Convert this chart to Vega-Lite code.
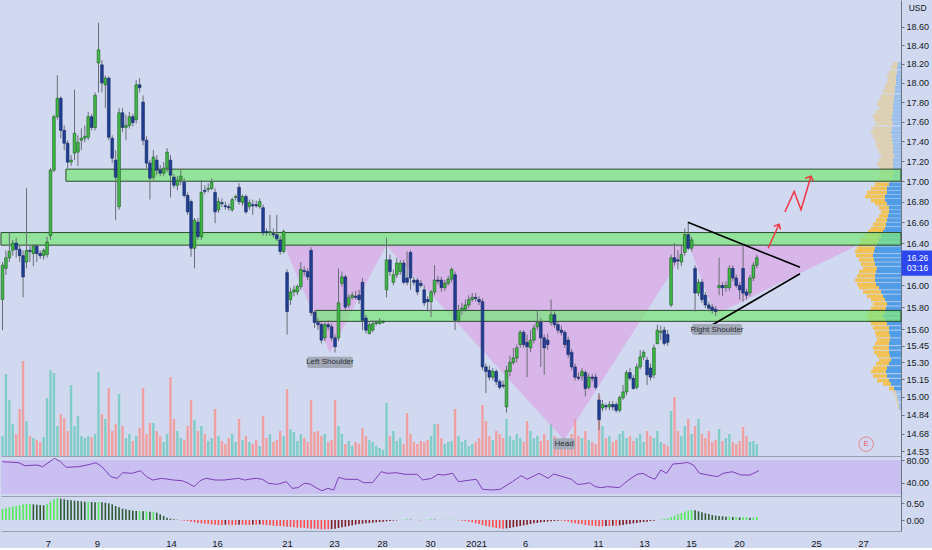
{
"$schema": "https://vega.github.io/schema/vega-lite/v6.json",
"background": "#d1d9f0",
"padding": 0,
"config": {"view": {"stroke": null}, "axis": {"labelFont": "Liberation Sans", "labelFontSize": 9, "labelColor": "#131722", "grid": false}, "text": {"font": "Liberation Sans"}, "scale": {"continuousPadding": 0}},
"datasets": {
"candles": [
{"i":0,"o":15.87,"h":16.22,"l":15.59,"c":16.19,"v":200,"m":0.33},
{"i":1,"o":16.16,"h":16.33,"l":16.10,"c":16.26,"v":820,"m":0.36},
{"i":2,"o":16.26,"h":16.50,"l":16.22,"c":16.32,"v":560,"m":0.38},
{"i":3,"o":16.33,"h":16.43,"l":16.28,"c":16.40,"v":320,"m":0.40},
{"i":4,"o":16.40,"h":16.45,"l":16.26,"c":16.34,"v":220,"m":0.42},
{"i":5,"o":16.34,"h":16.38,"l":16.22,"c":16.28,"v":470,"m":0.45},
{"i":6,"o":16.28,"h":16.33,"l":15.89,"c":16.08,"v":950,"m":0.47},
{"i":7,"o":16.22,"h":16.93,"l":16.16,"c":16.33,"v":350,"m":0.48},
{"i":8,"o":16.33,"h":16.38,"l":16.22,"c":16.32,"v":200,"m":0.48},
{"i":9,"o":16.30,"h":16.39,"l":16.18,"c":16.37,"v":180,"m":0.47},
{"i":10,"o":16.37,"h":16.39,"l":16.22,"c":16.30,"v":160,"m":0.46},
{"i":11,"o":16.30,"h":16.33,"l":16.25,"c":16.28,"v":140,"m":0.45},
{"i":12,"o":16.28,"h":16.35,"l":16.24,"c":16.33,"v":190,"m":0.44},
{"i":13,"o":16.29,"h":16.46,"l":16.26,"c":16.41,"v":580,"m":0.48},
{"i":14,"o":16.47,"h":17.13,"l":16.43,"c":17.11,"v":860,"m":0.55},
{"i":15,"o":17.11,"h":17.67,"l":17.09,"c":17.65,"v":830,"m":0.62},
{"i":16,"o":17.65,"h":18.08,"l":17.62,"c":17.84,"v":300,"m":0.66},
{"i":17,"o":17.84,"h":17.86,"l":17.43,"c":17.51,"v":420,"m":0.64},
{"i":18,"o":17.51,"h":17.56,"l":17.31,"c":17.38,"v":380,"m":0.62},
{"i":19,"o":17.38,"h":17.41,"l":17.13,"c":17.19,"v":250,"m":0.60},
{"i":20,"o":17.19,"h":17.26,"l":17.15,"c":17.21,"v":710,"m":0.59},
{"i":21,"o":17.28,"h":17.93,"l":17.21,"c":17.48,"v":300,"m":0.58},
{"i":22,"o":17.29,"h":17.46,"l":17.15,"c":17.39,"v":400,"m":0.57},
{"i":23,"o":17.41,"h":17.53,"l":17.31,"c":17.43,"v":200,"m":0.56},
{"i":24,"o":17.43,"h":17.56,"l":17.39,"c":17.45,"v":180,"m":0.55},
{"i":25,"o":17.44,"h":17.70,"l":17.41,"c":17.65,"v":200,"m":0.55},
{"i":26,"o":17.65,"h":17.68,"l":17.51,"c":17.54,"v":190,"m":0.54},
{"i":27,"o":17.54,"h":17.90,"l":17.51,"c":17.87,"v":220,"m":0.53},
{"i":28,"o":18.21,"h":18.64,"l":17.90,"c":18.35,"v":840,"m":0.54},
{"i":29,"o":18.19,"h":18.24,"l":17.90,"c":18.00,"v":420,"m":0.53},
{"i":30,"o":17.98,"h":18.08,"l":17.74,"c":18.05,"v":370,"m":0.52},
{"i":31,"o":18.05,"h":18.07,"l":17.41,"c":17.44,"v":680,"m":0.50},
{"i":32,"o":17.43,"h":17.46,"l":17.18,"c":17.23,"v":250,"m":0.47},
{"i":33,"o":17.21,"h":17.31,"l":16.62,"c":17.04,"v":320,"m":0.42},
{"i":34,"o":16.75,"h":17.74,"l":16.72,"c":17.69,"v":620,"m":0.38},
{"i":35,"o":17.69,"h":17.74,"l":17.49,"c":17.54,"v":300,"m":0.34},
{"i":36,"o":17.54,"h":17.67,"l":17.41,"c":17.56,"v":180,"m":0.32},
{"i":37,"o":17.56,"h":17.70,"l":17.53,"c":17.65,"v":220,"m":0.30},
{"i":38,"o":17.65,"h":17.68,"l":17.55,"c":17.59,"v":150,"m":0.28},
{"i":39,"o":17.62,"h":18.03,"l":17.58,"c":17.98,"v":200,"m":0.27},
{"i":40,"o":17.98,"h":18.05,"l":17.90,"c":17.95,"v":280,"m":0.27},
{"i":41,"o":17.80,"h":17.87,"l":17.36,"c":17.41,"v":680,"m":0.26},
{"i":42,"o":17.41,"h":17.45,"l":17.13,"c":17.18,"v":220,"m":0.26},
{"i":43,"o":17.18,"h":17.21,"l":16.82,"c":17.03,"v":330,"m":0.25},
{"i":44,"o":17.04,"h":17.31,"l":17.01,"c":17.24,"v":330,"m":0.25},
{"i":45,"o":17.21,"h":17.26,"l":17.06,"c":17.11,"v":250,"m":0.22},
{"i":46,"o":17.11,"h":17.16,"l":17.05,"c":17.08,"v":200,"m":0.17},
{"i":47,"o":17.08,"h":17.19,"l":17.05,"c":17.13,"v":140,"m":0.12},
{"i":48,"o":17.13,"h":17.33,"l":17.09,"c":17.29,"v":220,"m":0.07},
{"i":49,"o":17.21,"h":17.26,"l":16.84,"c":17.06,"v":790,"m":0.04},
{"i":50,"o":17.04,"h":17.07,"l":16.93,"c":16.96,"v":370,"m":0.02},
{"i":51,"o":16.96,"h":17.05,"l":16.91,"c":17.01,"v":250,"m":0.01},
{"i":52,"o":17.01,"h":17.11,"l":16.96,"c":17.05,"v":180,"m":-0.01},
{"i":53,"o":16.99,"h":17.03,"l":16.84,"c":16.86,"v":160,"m":-0.02},
{"i":54,"o":16.86,"h":16.89,"l":16.67,"c":16.70,"v":300,"m":-0.03},
{"i":55,"o":16.80,"h":16.82,"l":16.27,"c":16.35,"v":560,"m":-0.05},
{"i":56,"o":16.35,"h":16.64,"l":16.16,"c":16.62,"v":360,"m":-0.07},
{"i":57,"o":16.60,"h":16.64,"l":16.43,"c":16.46,"v":250,"m":-0.09},
{"i":58,"o":16.46,"h":17.01,"l":16.43,"c":16.89,"v":300,"m":-0.10},
{"i":59,"o":16.91,"h":16.96,"l":16.87,"c":16.90,"v":220,"m":-0.11},
{"i":60,"o":16.92,"h":16.98,"l":16.89,"c":16.93,"v":150,"m":-0.12},
{"i":61,"o":16.93,"h":17.03,"l":16.91,"c":16.99,"v":180,"m":-0.13},
{"i":62,"o":16.89,"h":16.93,"l":16.59,"c":16.70,"v":470,"m":-0.14},
{"i":63,"o":16.72,"h":16.84,"l":16.69,"c":16.80,"v":200,"m":-0.15},
{"i":64,"o":16.79,"h":16.83,"l":16.75,"c":16.78,"v":150,"m":-0.15},
{"i":65,"o":16.76,"h":16.80,"l":16.72,"c":16.75,"v":120,"m":-0.14},
{"i":66,"o":16.75,"h":16.78,"l":16.71,"c":16.74,"v":180,"m":-0.14},
{"i":67,"o":16.72,"h":16.84,"l":16.70,"c":16.82,"v":220,"m":-0.15},
{"i":68,"o":16.84,"h":16.87,"l":16.81,"c":16.85,"v":140,"m":-0.15},
{"i":69,"o":16.94,"h":16.98,"l":16.77,"c":16.80,"v":370,"m":-0.14},
{"i":70,"o":16.79,"h":16.87,"l":16.76,"c":16.85,"v":160,"m":-0.14},
{"i":71,"o":16.85,"h":16.87,"l":16.68,"c":16.70,"v":200,"m":-0.15},
{"i":72,"o":16.75,"h":16.82,"l":16.72,"c":16.79,"v":140,"m":-0.15},
{"i":73,"o":16.77,"h":16.82,"l":16.67,"c":16.76,"v":120,"m":-0.14},
{"i":74,"o":16.77,"h":16.81,"l":16.74,"c":16.76,"v":160,"m":-0.14},
{"i":75,"o":16.75,"h":16.83,"l":16.73,"c":16.80,"v":100,"m":-0.13},
{"i":76,"o":16.74,"h":16.77,"l":16.47,"c":16.50,"v":400,"m":-0.14},
{"i":77,"o":16.51,"h":16.54,"l":16.47,"c":16.50,"v":180,"m":-0.15},
{"i":78,"o":16.50,"h":16.67,"l":16.47,"c":16.51,"v":220,"m":-0.16},
{"i":79,"o":16.49,"h":16.54,"l":16.45,"c":16.48,"v":140,"m":-0.17},
{"i":80,"o":16.48,"h":16.67,"l":16.42,"c":16.44,"v":160,"m":-0.18},
{"i":81,"o":16.43,"h":16.47,"l":16.29,"c":16.32,"v":250,"m":-0.18},
{"i":82,"o":16.32,"h":16.53,"l":16.30,"c":16.51,"v":200,"m":-0.19},
{"i":83,"o":16.12,"h":16.15,"l":15.55,"c":15.76,"v":670,"m":-0.20},
{"i":84,"o":15.87,"h":15.98,"l":15.82,"c":15.94,"v":270,"m":-0.21},
{"i":85,"o":15.94,"h":16.00,"l":15.90,"c":15.96,"v":240,"m":-0.22},
{"i":86,"o":15.94,"h":16.01,"l":15.91,"c":15.99,"v":150,"m":-0.23},
{"i":87,"o":15.99,"h":16.22,"l":15.96,"c":16.15,"v":220,"m":-0.23},
{"i":88,"o":16.14,"h":16.18,"l":16.09,"c":16.13,"v":180,"m":-0.24},
{"i":89,"o":16.13,"h":16.16,"l":16.05,"c":16.08,"v":140,"m":-0.25},
{"i":90,"o":16.33,"h":16.36,"l":15.72,"c":15.75,"v":560,"m":-0.26},
{"i":91,"o":15.75,"h":15.77,"l":15.61,"c":15.66,"v":240,"m":-0.26},
{"i":92,"o":15.66,"h":15.70,"l":15.59,"c":15.64,"v":250,"m":-0.27},
{"i":93,"o":15.64,"h":15.66,"l":15.47,"c":15.50,"v":200,"m":-0.28},
{"i":94,"o":15.52,"h":15.66,"l":15.49,"c":15.64,"v":220,"m":-0.28},
{"i":95,"o":15.64,"h":15.68,"l":15.59,"c":15.62,"v":140,"m":-0.28},
{"i":96,"o":15.62,"h":15.65,"l":15.49,"c":15.52,"v":160,"m":-0.27},
{"i":97,"o":15.52,"h":15.55,"l":15.39,"c":15.44,"v":560,"m":-0.26},
{"i":98,"o":15.52,"h":16.16,"l":15.49,"c":15.84,"v":300,"m":-0.24},
{"i":99,"o":16.02,"h":16.13,"l":15.99,"c":16.08,"v":220,"m":-0.22},
{"i":100,"o":16.08,"h":16.10,"l":15.77,"c":15.80,"v":120,"m":-0.20},
{"i":101,"o":15.82,"h":15.92,"l":15.79,"c":15.89,"v":150,"m":-0.18},
{"i":102,"o":15.89,"h":15.94,"l":15.87,"c":15.91,"v":100,"m":-0.16},
{"i":103,"o":15.90,"h":15.95,"l":15.87,"c":15.89,"v":140,"m":-0.14},
{"i":104,"o":15.91,"h":15.96,"l":15.83,"c":15.87,"v":120,"m":-0.12},
{"i":105,"o":16.03,"h":16.07,"l":15.59,"c":15.68,"v":280,"m":-0.11},
{"i":106,"o":15.70,"h":15.73,"l":15.56,"c":15.59,"v":200,"m":-0.10},
{"i":107,"o":15.56,"h":15.67,"l":15.55,"c":15.64,"v":160,"m":-0.09},
{"i":108,"o":15.59,"h":15.68,"l":15.57,"c":15.65,"v":140,"m":-0.08},
{"i":109,"o":15.65,"h":15.68,"l":15.63,"c":15.66,"v":100,"m":-0.07},
{"i":110,"o":15.65,"h":15.70,"l":15.64,"c":15.67,"v":80,"m":-0.06},
{"i":111,"o":15.66,"h":15.68,"l":15.65,"c":15.67,"v":60,"m":-0.05},
{"i":112,"o":15.96,"h":16.45,"l":15.89,"c":16.24,"v":530,"m":-0.04},
{"i":113,"o":16.24,"h":16.29,"l":16.09,"c":16.13,"v":200,"m":-0.03},
{"i":114,"o":16.03,"h":16.15,"l":16.00,"c":16.10,"v":250,"m":-0.02},
{"i":115,"o":16.10,"h":16.26,"l":16.07,"c":16.21,"v":150,"m":-0.01},
{"i":116,"o":16.13,"h":16.24,"l":16.10,"c":16.21,"v":180,"m":0.01},
{"i":117,"o":16.21,"h":16.24,"l":16.01,"c":16.03,"v":120,"m":0.01},
{"i":118,"o":16.07,"h":16.32,"l":16.00,"c":16.03,"v":430,"m":0.02},
{"i":119,"o":16.31,"h":16.33,"l":15.96,"c":16.07,"v":220,"m":0.01},
{"i":120,"o":16.05,"h":16.08,"l":16.00,"c":16.03,"v":140,"m":0.01},
{"i":121,"o":16.05,"h":16.07,"l":15.91,"c":15.94,"v":120,"m":0.00},
{"i":122,"o":16.02,"h":16.05,"l":15.98,"c":16.00,"v":150,"m":-0.01},
{"i":123,"o":15.96,"h":16.00,"l":15.81,"c":15.84,"v":140,"m":0.01},
{"i":124,"o":15.87,"h":15.90,"l":15.76,"c":15.85,"v":160,"m":0.01},
{"i":125,"o":15.85,"h":15.96,"l":15.71,"c":15.94,"v":200,"m":0.02},
{"i":126,"o":15.94,"h":16.19,"l":15.91,"c":16.05,"v":320,"m":0.01},
{"i":127,"o":16.05,"h":16.09,"l":16.01,"c":16.04,"v":320,"m":0.01},
{"i":128,"o":16.05,"h":16.08,"l":15.94,"c":15.98,"v":180,"m":0.01},
{"i":129,"o":15.98,"h":16.05,"l":15.95,"c":16.02,"v":120,"m":0.00},
{"i":130,"o":16.02,"h":16.09,"l":16.00,"c":16.06,"v":140,"m":0.01},
{"i":131,"o":16.06,"h":16.17,"l":16.03,"c":16.15,"v":150,"m":0.01},
{"i":132,"o":16.10,"h":16.13,"l":15.59,"c":15.68,"v":470,"m":0.00},
{"i":133,"o":15.68,"h":15.82,"l":15.66,"c":15.77,"v":200,"m":-0.01},
{"i":134,"o":15.77,"h":15.84,"l":15.73,"c":15.79,"v":140,"m":-0.02},
{"i":135,"o":15.78,"h":15.87,"l":15.76,"c":15.82,"v":160,"m":-0.03},
{"i":136,"o":15.82,"h":15.91,"l":15.79,"c":15.87,"v":100,"m":-0.05},
{"i":137,"o":15.87,"h":15.93,"l":15.85,"c":15.89,"v":120,"m":-0.07},
{"i":138,"o":15.89,"h":15.93,"l":15.85,"c":15.88,"v":140,"m":-0.10},
{"i":139,"o":15.87,"h":15.90,"l":15.82,"c":15.85,"v":180,"m":-0.12},
{"i":140,"o":15.85,"h":15.88,"l":15.23,"c":15.26,"v":510,"m":-0.15},
{"i":141,"o":15.26,"h":15.29,"l":15.03,"c":15.22,"v":350,"m":-0.18},
{"i":142,"o":15.23,"h":15.27,"l":15.14,"c":15.17,"v":200,"m":-0.20},
{"i":143,"o":15.17,"h":15.25,"l":15.14,"c":15.22,"v":160,"m":-0.22},
{"i":144,"o":15.22,"h":15.24,"l":15.10,"c":15.13,"v":250,"m":-0.24},
{"i":145,"o":15.13,"h":15.15,"l":15.06,"c":15.08,"v":220,"m":-0.25},
{"i":146,"o":15.10,"h":15.14,"l":15.07,"c":15.09,"v":180,"m":-0.26},
{"i":147,"o":14.91,"h":15.27,"l":14.86,"c":15.23,"v":370,"m":-0.25},
{"i":148,"o":15.22,"h":15.36,"l":15.18,"c":15.30,"v":200,"m":-0.24},
{"i":149,"o":15.30,"h":15.43,"l":15.28,"c":15.34,"v":160,"m":-0.22},
{"i":150,"o":15.34,"h":15.46,"l":15.30,"c":15.43,"v":220,"m":-0.20},
{"i":151,"o":15.46,"h":15.59,"l":15.43,"c":15.57,"v":180,"m":-0.18},
{"i":152,"o":15.57,"h":15.59,"l":15.43,"c":15.46,"v":140,"m":-0.16},
{"i":153,"o":15.48,"h":15.55,"l":15.17,"c":15.44,"v":350,"m":-0.14},
{"i":154,"o":15.43,"h":15.59,"l":15.39,"c":15.50,"v":250,"m":-0.12},
{"i":155,"o":15.50,"h":15.64,"l":15.47,"c":15.61,"v":180,"m":-0.10},
{"i":156,"o":15.62,"h":15.77,"l":15.59,"c":15.66,"v":200,"m":-0.09},
{"i":157,"o":15.66,"h":15.70,"l":15.26,"c":15.52,"v":150,"m":-0.07},
{"i":158,"o":15.52,"h":15.55,"l":15.19,"c":15.43,"v":220,"m":-0.06},
{"i":159,"o":15.50,"h":15.56,"l":15.41,"c":15.46,"v":160,"m":-0.05},
{"i":160,"o":15.66,"h":15.87,"l":15.63,"c":15.73,"v":320,"m":-0.04},
{"i":161,"o":15.73,"h":15.76,"l":15.61,"c":15.64,"v":200,"m":-0.03},
{"i":162,"o":15.64,"h":15.67,"l":15.56,"c":15.59,"v":160,"m":-0.02},
{"i":163,"o":15.59,"h":15.63,"l":15.54,"c":15.57,"v":120,"m":-0.02},
{"i":164,"o":15.57,"h":15.59,"l":15.43,"c":15.46,"v":180,"m":-0.03},
{"i":165,"o":15.50,"h":15.53,"l":15.34,"c":15.37,"v":140,"m":-0.05},
{"i":166,"o":15.39,"h":15.42,"l":15.23,"c":15.26,"v":220,"m":-0.08},
{"i":167,"o":15.26,"h":15.29,"l":15.14,"c":15.17,"v":370,"m":-0.10},
{"i":168,"o":15.17,"h":15.21,"l":15.14,"c":15.16,"v":200,"m":-0.12},
{"i":169,"o":15.18,"h":15.25,"l":15.14,"c":15.22,"v":180,"m":-0.13},
{"i":170,"o":15.21,"h":15.23,"l":15.00,"c":15.07,"v":250,"m":-0.15},
{"i":171,"o":15.08,"h":15.20,"l":15.06,"c":15.17,"v":160,"m":-0.16},
{"i":172,"o":15.17,"h":15.20,"l":15.13,"c":15.16,"v":140,"m":-0.17},
{"i":173,"o":15.17,"h":15.20,"l":15.06,"c":15.08,"v":120,"m":-0.18},
{"i":174,"o":14.97,"h":15.03,"l":14.71,"c":14.80,"v":610,"m":-0.19},
{"i":175,"o":14.90,"h":14.97,"l":14.87,"c":14.93,"v":300,"m":-0.19},
{"i":176,"o":14.92,"h":14.94,"l":14.88,"c":14.91,"v":180,"m":-0.18},
{"i":177,"o":14.91,"h":14.96,"l":14.88,"c":14.93,"v":200,"m":-0.18},
{"i":178,"o":14.93,"h":14.96,"l":14.88,"c":14.91,"v":140,"m":-0.17},
{"i":179,"o":14.93,"h":14.95,"l":14.86,"c":14.88,"v":160,"m":-0.17},
{"i":180,"o":14.88,"h":15.01,"l":14.86,"c":14.99,"v":220,"m":-0.16},
{"i":181,"o":14.99,"h":15.10,"l":14.97,"c":15.04,"v":250,"m":-0.15},
{"i":182,"o":15.04,"h":15.23,"l":15.01,"c":15.21,"v":180,"m":-0.13},
{"i":183,"o":15.21,"h":15.25,"l":15.14,"c":15.16,"v":200,"m":-0.12},
{"i":184,"o":15.16,"h":15.19,"l":15.06,"c":15.07,"v":150,"m":-0.10},
{"i":185,"o":15.08,"h":15.29,"l":15.06,"c":15.26,"v":180,"m":-0.09},
{"i":186,"o":15.26,"h":15.41,"l":15.24,"c":15.35,"v":220,"m":-0.07},
{"i":187,"o":15.35,"h":15.41,"l":15.32,"c":15.39,"v":140,"m":-0.06},
{"i":188,"o":15.32,"h":15.35,"l":15.10,"c":15.19,"v":250,"m":-0.05},
{"i":189,"o":15.25,"h":15.29,"l":15.14,"c":15.17,"v":200,"m":-0.03},
{"i":190,"o":15.19,"h":15.46,"l":15.16,"c":15.43,"v":180,"m":-0.02},
{"i":191,"o":15.47,"h":15.64,"l":15.46,"c":15.59,"v":250,"m":0.00},
{"i":192,"o":15.57,"h":15.63,"l":15.50,"c":15.58,"v":140,"m":0.01},
{"i":193,"o":15.59,"h":15.62,"l":15.45,"c":15.47,"v":120,"m":0.03},
{"i":194,"o":15.55,"h":15.59,"l":15.45,"c":15.48,"v":100,"m":0.05},
{"i":195,"o":15.82,"h":16.29,"l":15.80,"c":16.26,"v":450,"m":0.09},
{"i":196,"o":16.26,"h":16.40,"l":16.19,"c":16.22,"v":590,"m":0.13},
{"i":197,"o":16.24,"h":16.33,"l":16.15,"c":16.23,"v":250,"m":0.17},
{"i":198,"o":16.22,"h":16.38,"l":16.18,"c":16.29,"v":200,"m":0.21},
{"i":199,"o":16.31,"h":16.54,"l":16.28,"c":16.48,"v":300,"m":0.25},
{"i":200,"o":16.48,"h":16.60,"l":16.33,"c":16.35,"v":370,"m":0.28},
{"i":201,"o":16.35,"h":16.46,"l":16.32,"c":16.43,"v":220,"m":0.30},
{"i":202,"o":16.16,"h":16.19,"l":15.76,"c":15.93,"v":300,"m":0.29},
{"i":203,"o":15.93,"h":16.06,"l":15.90,"c":16.03,"v":370,"m":0.26},
{"i":204,"o":16.03,"h":16.06,"l":15.84,"c":15.87,"v":220,"m":0.23},
{"i":205,"o":15.91,"h":15.94,"l":15.79,"c":15.82,"v":180,"m":0.20},
{"i":206,"o":15.82,"h":15.85,"l":15.76,"c":15.79,"v":250,"m":0.18},
{"i":207,"o":15.80,"h":15.83,"l":15.74,"c":15.77,"v":140,"m":0.15},
{"i":208,"o":15.78,"h":15.81,"l":15.72,"c":15.76,"v":160,"m":0.13},
{"i":209,"o":15.98,"h":16.26,"l":15.91,"c":16.00,"v":270,"m":0.12},
{"i":210,"o":16.00,"h":16.03,"l":15.90,"c":15.98,"v":150,"m":0.11},
{"i":211,"o":15.98,"h":16.04,"l":15.94,"c":16.00,"v":180,"m":0.10},
{"i":212,"o":15.98,"h":16.19,"l":15.95,"c":16.16,"v":220,"m":0.10},
{"i":213,"o":16.16,"h":16.19,"l":16.04,"c":16.07,"v":140,"m":0.09},
{"i":214,"o":16.07,"h":16.10,"l":15.98,"c":16.00,"v":120,"m":0.09},
{"i":215,"o":16.00,"h":16.03,"l":15.87,"c":15.96,"v":150,"m":0.08},
{"i":216,"o":16.16,"h":16.38,"l":15.85,"c":15.93,"v":290,"m":0.08},
{"i":217,"o":15.94,"h":15.97,"l":15.87,"c":15.91,"v":200,"m":0.08},
{"i":218,"o":15.93,"h":16.10,"l":15.90,"c":16.07,"v":140,"m":0.07},
{"i":219,"o":16.07,"h":16.22,"l":16.04,"c":16.19,"v":150,"m":0.08},
{"i":220,"o":16.19,"h":16.29,"l":16.16,"c":16.26,"v":120,"m":0.08}
],
"profile": [
{"p":18.20,"buy":30,"sell":50},{"p":18.16,"buy":40,"sell":60},{"p":18.11,"buy":40,"sell":80},{"p":18.07,"buy":50,"sell":90},
{"p":18.03,"buy":50,"sell":80},{"p":17.99,"buy":50,"sell":100},{"p":17.95,"buy":60,"sell":100},{"p":17.91,"buy":60,"sell":120},
{"p":17.86,"buy":70,"sell":130},{"p":17.82,"buy":70,"sell":150},{"p":17.78,"buy":80,"sell":160},{"p":17.74,"buy":80,"sell":140},
{"p":17.70,"buy":80,"sell":170},{"p":17.66,"buy":90,"sell":190},{"p":17.62,"buy":90,"sell":180},{"p":17.58,"buy":80,"sell":170},
{"p":17.53,"buy":90,"sell":190},{"p":17.49,"buy":100,"sell":200},{"p":17.45,"buy":90,"sell":190},{"p":17.41,"buy":90,"sell":170},
{"p":17.37,"buy":80,"sell":170},{"p":17.33,"buy":80,"sell":160},{"p":17.29,"buy":80,"sell":140},{"p":17.25,"buy":70,"sell":130},
{"p":17.21,"buy":80,"sell":140},{"p":17.17,"buy":80,"sell":160},{"p":17.13,"buy":80,"sell":140},{"p":17.09,"buy":70,"sell":130},
{"p":17.05,"buy":80,"sell":120},{"p":17.01,"buy":100,"sell":120},{"p":16.97,"buy":120,"sell":140},{"p":16.93,"buy":140,"sell":160},
{"p":16.89,"buy":140,"sell":200},{"p":16.85,"buy":160,"sell":200},{"p":16.81,"buy":160,"sell":140},{"p":16.78,"buy":140,"sell":120},
{"p":16.74,"buy":120,"sell":100},{"p":16.70,"buy":120,"sell":80},{"p":16.66,"buy":130,"sell":90},{"p":16.62,"buy":140,"sell":110},
{"p":16.58,"buy":150,"sell":130},{"p":16.54,"buy":160,"sell":140},{"p":16.51,"buy":180,"sell":150},{"p":16.47,"buy":200,"sell":160},
{"p":16.43,"buy":220,"sell":180},{"p":16.39,"buy":240,"sell":180},{"p":16.35,"buy":260,"sell":180},{"p":16.32,"buy":270,"sell":190},
{"p":16.28,"buy":280,"sell":170},{"p":16.24,"buy":270,"sell":150},{"p":16.20,"buy":260,"sell":140},{"p":16.16,"buy":240,"sell":140},
{"p":16.13,"buy":250,"sell":170},{"p":16.09,"buy":260,"sell":180},{"p":16.05,"buy":260,"sell":200},{"p":16.01,"buy":250,"sell":190},
{"p":15.98,"buy":220,"sell":200},{"p":15.94,"buy":200,"sell":180},{"p":15.90,"buy":180,"sell":160},{"p":15.87,"buy":160,"sell":140},
{"p":15.83,"buy":140,"sell":140},{"p":15.79,"buy":150,"sell":150},{"p":15.76,"buy":160,"sell":160},{"p":15.72,"buy":180,"sell":160},
{"p":15.68,"buy":160,"sell":170},{"p":15.65,"buy":140,"sell":160},{"p":15.61,"buy":120,"sell":160},{"p":15.57,"buy":120,"sell":140},
{"p":15.54,"buy":110,"sell":140},{"p":15.50,"buy":110,"sell":130},{"p":15.47,"buy":120,"sell":140},{"p":15.43,"buy":120,"sell":160},
{"p":15.39,"buy":120,"sell":150},{"p":15.36,"buy":110,"sell":130},{"p":15.32,"buy":100,"sell":120},{"p":15.29,"buy":120,"sell":130},
{"p":15.25,"buy":140,"sell":140},{"p":15.22,"buy":150,"sell":150},{"p":15.18,"buy":140,"sell":140},{"p":15.14,"buy":120,"sell":120},
{"p":15.11,"buy":100,"sell":80},{"p":15.07,"buy":70,"sell":50},{"p":15.04,"buy":50,"sell":30},{"p":15.00,"buy":40,"sell":20},
{"p":14.97,"buy":30,"sell":20},{"p":14.93,"buy":20,"sell":20},{"p":14.90,"buy":20,"sell":10}
],
"rsi": [
{"i":0,"r":77.0},{"i":4.8,"r":75.2},{"i":6.5,"r":70.0},{"i":10,"r":71.2},{"i":11.7,"r":68.2},{"i":15.2,"r":83.0},{"i":16.9,"r":77.0},{"i":18.6,"r":67.1},{"i":22.1,"r":68.2},{"i":24.7,"r":71.2},{"i":27.3,"r":75.2},{"i":29,"r":68.2},{"i":31.6,"r":50.6},{"i":33.4,"r":47.7},{"i":35.1,"r":57.6},{"i":37.7,"r":56.5},{"i":40.3,"r":61.1},{"i":42,"r":50.6},{"i":43.8,"r":44.7},{"i":46.4,"r":47.7},{"i":49.8,"r":44.7},{"i":52.4,"r":43.5},{"i":54.2,"r":38.9},{"i":55.9,"r":33.0},{"i":57.6,"r":43.5},{"i":59.4,"r":47.7},{"i":62,"r":44.7},{"i":64.6,"r":44.7},{"i":67.2,"r":46.5},{"i":68.9,"r":47.7},{"i":70.6,"r":44.7},{"i":72.4,"r":46.5},{"i":74.1,"r":47.7},{"i":75.8,"r":45.9},{"i":77.6,"r":38.9},{"i":80.2,"r":37.1},{"i":82.8,"r":41.8},{"i":84.5,"r":30.0},{"i":86.2,"r":31.2},{"i":88,"r":38.9},{"i":89.7,"r":37.7},{"i":91.4,"r":31.2},{"i":93.2,"r":25.9},{"i":94.9,"r":30.0},{"i":96.6,"r":27.1},{"i":98,"r":49.4},{"i":100.1,"r":45.9},{"i":103.6,"r":45.9},{"i":105.3,"r":40.0},{"i":107.9,"r":40.0},{"i":110.5,"r":59.4},{"i":112.2,"r":56.5},{"i":114.8,"r":57.6},{"i":117.4,"r":54.8},{"i":120.9,"r":54.8},{"i":122.6,"r":44.7},{"i":125.2,"r":47.7},{"i":127,"r":54.8},{"i":128.7,"r":53.5},{"i":131.3,"r":56.5},{"i":133,"r":41.8},{"i":136.5,"r":44.7},{"i":138.2,"r":45.9},{"i":140,"r":28.3},{"i":142.6,"r":27.1},{"i":145.2,"r":28.3},{"i":148.7,"r":41.8},{"i":151.3,"r":52.3},{"i":153,"r":45.9},{"i":156.5,"r":56.5},{"i":159.1,"r":47.7},{"i":160.8,"r":55.3},{"i":163.4,"r":50.6},{"i":166,"r":45.9},{"i":167.7,"r":37.1},{"i":169.4,"r":37.7},{"i":171.2,"r":40.0},{"i":172.9,"r":33.0},{"i":174.7,"r":31.2},{"i":176.4,"r":33.0},{"i":179.9,"r":31.2},{"i":181.6,"r":40.0},{"i":183.3,"r":47.7},{"i":185.1,"r":54.8},{"i":186.8,"r":56.5},{"i":188.5,"r":50.6},{"i":190.3,"r":45.9},{"i":192,"r":62.4},{"i":193.7,"r":56.5},{"i":195.5,"r":72.9},{"i":198.1,"r":74.1},{"i":199.8,"r":75.9},{"i":201.5,"r":71.2},{"i":203.3,"r":56.5},{"i":205.9,"r":53.5},{"i":208.5,"r":50.6},{"i":210.2,"r":56.5},{"i":212.8,"r":59.4},{"i":215.4,"r":53.5},{"i":218,"r":53.5},{"i":220.6,"r":61.1}
]
},
"vconcat": [
{
"width": 900, "height": 456,
"layer": [
{
"data": {"name": "candles"},
"mark": {"type": "bar", "orient": "vertical", "size": 2.4},
"encoding": {
"x": {"field": "i", "type": "quantitative", "scale": {"domain": [-0.4375, 262.06], "nice": false, "zero": false, "padding": 0}, "axis": null},
"y": {"field": "v", "type": "quantitative", "scale": {"domain": [0, 4560], "nice": false, "padding": 0}, "axis": null},
"color": {"condition": {"test": "datum.c >= datum.o", "value": "#7fcdc6"}, "value": "#f0a0a0"}
}
},
{
"data": {"name": "profile"},
"transform": [{"fold": ["buy", "sell"], "as": ["s", "vol"]}],
"mark": {"type": "bar", "orient": "horizontal", "size": 3.6},
"encoding": {
"y": {"field": "p", "type": "quantitative", "scale": {"type": "log", "domain": [14.49, 18.889], "nice": false, "zero": false, "padding": 0}, "axis": null},
"x": {"field": "vol", "type": "quantitative", "stack": "zero", "scale": {"domain": [0, 9000], "reverse": true, "nice": false, "padding": 0}, "axis": null},
"color": {"field": "s", "type": "nominal", "scale": {"domain": ["buy", "sell"], "range": ["#4a9ae6", "#f2c14e"]}, "legend": null},
"order": {"field": "s", "sort": "ascending"},
"opacity": {"condition": {"test": "datum.p >= 15.05 && datum.p <= 16.97", "value": 0.95}, "value": 0.4}
}
},
{
"layer": [
{
"data": {"values": [{"x": 82.1, "lo": 16.38}, {"x": 95.5, "lo": 15.385}, {"x": 111.9, "lo": 16.38}, {"x": 163.8, "lo": 14.625}, {"x": 200.2, "lo": 16.38}, {"x": 207.8, "lo": 15.73}, {"x": 249.5, "lo": 16.38}]},
"mark": {"type": "area", "color": "#e08ce0", "opacity": 0.45, "interpolate": "linear"},
"encoding": {
"x": {"field": "x", "type": "quantitative", "scale": {"domain": [-0.4375, 262.06], "nice": false, "zero": false, "padding": 0}, "axis": {"title": null, "labels": false, "ticks": false, "domain": true, "domainColor": "#9aa0b0", "orient": "bottom"}},
"y": {"field": "lo", "type": "quantitative", "scale": {"type": "log", "domain": [14.49, 18.889], "nice": false, "zero": false, "padding": 0}, "axis": {"title": null, "orient": "right", "values": [18.6, 18.4, 18.2, 18.0, 17.8, 17.6, 17.4, 17.2, 17.0, 16.8, 16.6, 16.4, 16.0, 15.8, 15.6, 15.45, 15.3, 15.15, 15.0, 14.84, 14.68, 14.53], "format": ".2f", "tickSize": 3, "labelPadding": 2, "domainColor": "#6f7482", "tickColor": "#6f7482"}},
"y2": {"datum": 16.38}
}
},
{
"data": {"values": [{"x1": -0.44, "x2": 262.06, "p1": 16.38, "p2": 16.50}, {"x1": 18.5, "x2": 262.06, "p1": 17.0, "p2": 17.12}, {"x1": 91.4, "x2": 262.06, "p1": 15.67, "p2": 15.77}]},
"mark": {"type": "rect", "fill": "#7be67b", "fillOpacity": 0.72, "stroke": "#2a4a2a", "strokeWidth": 1},
"encoding": {
"x": {"field": "x1", "type": "quantitative"}, "x2": {"field": "x2"},
"y": {"field": "p1", "type": "quantitative"}, "y2": {"field": "p2"}
}
},
{
"data": {"name": "candles"},
"mark": {"type": "rule", "color": "#6a6d78", "strokeWidth": 1},
"encoding": {
"x": {"field": "i", "type": "quantitative"},
"y": {"field": "l", "type": "quantitative"}, "y2": {"field": "h"}
}
},
{
"data": {"name": "candles"},
"mark": {"type": "bar", "orient": "vertical", "size": 2.7, "strokeWidth": 0.6},
"encoding": {
"x": {"field": "i", "type": "quantitative"},
"y": {"field": "o", "type": "quantitative"}, "y2": {"field": "c"},
"color": {"condition": {"test": "datum.c >= datum.o", "value": "#3fb846"}, "value": "#213f94"},
"stroke": {"condition": {"test": "datum.c >= datum.o", "value": "#1d5e22"}, "value": "#112560"}
}
},
{
"data": {"values": [{"seg": "u", "x": 199.9, "p": 16.60}, {"seg": "u", "x": 232.6, "p": 16.17}, {"seg": "l", "x": 206.6, "p": 15.63}, {"seg": "l", "x": 232.6, "p": 16.11}]},
"mark": {"type": "line", "color": "#000000", "strokeWidth": 1.6},
"encoding": {
"x": {"field": "x", "type": "quantitative"},
"y": {"field": "p", "type": "quantitative"},
"detail": {"field": "seg"}
}
},
{
"data": {"values": [
{"seg": "a", "k": 0, "x": 223.3, "p": 16.35}, {"seg": "a", "k": 1, "x": 226.5, "p": 16.58},
{"seg": "ah", "k": 0, "x": 224.9, "p": 16.56}, {"seg": "ah", "k": 1, "x": 226.5, "p": 16.58}, {"seg": "ah", "k": 2, "x": 226.9, "p": 16.53},
{"seg": "z", "k": 0, "x": 228.2, "p": 16.70}, {"seg": "z", "k": 1, "x": 230.9, "p": 16.90}, {"seg": "z", "k": 2, "x": 232.9, "p": 16.72}, {"seg": "z", "k": 3, "x": 235.8, "p": 17.05},
{"seg": "zh", "k": 0, "x": 234.1, "p": 17.03}, {"seg": "zh", "k": 1, "x": 235.8, "p": 17.05}, {"seg": "zh", "k": 2, "x": 236.5, "p": 17.00}
]},
"mark": {"type": "line", "color": "#f23645", "strokeWidth": 1.5},
"encoding": {
"x": {"field": "x", "type": "quantitative"},
"y": {"field": "p", "type": "quantitative"},
"detail": {"field": "seg"},
"order": {"field": "k"}
}
},
{
"data": {"values": [
{"t": "Left Shoulder", "x": 95.5, "p": 15.30, "x1": 88.8, "x2": 102.2, "p1": 15.25, "p2": 15.35},
{"t": "Head", "x": 163.8, "p": 14.59, "x1": 160.6, "x2": 167.0, "p1": 14.545, "p2": 14.64},
{"t": "Right Shoulder", "x": 208.4, "p": 15.59, "x1": 201.1, "x2": 215.7, "p1": 15.545, "p2": 15.645}
]},
"layer": [
{"mark": {"type": "rect", "fill": "#a4a9b8", "cornerRadius": 2},
 "encoding": {"x": {"field": "x1", "type": "quantitative"}, "x2": {"field": "x2"}, "y": {"field": "p1", "type": "quantitative"}, "y2": {"field": "p2"}}},
{"mark": {"type": "text", "fontSize": 8, "color": "#2a2e39", "baseline": "middle", "align": "center"},
 "encoding": {"x": {"field": "x", "type": "quantitative"}, "y": {"field": "p", "type": "quantitative"}, "text": {"field": "t"}}}
]
},
{
"data": {"values": [{"x": 251.9, "p": 14.59, "t": "E"}]},
"layer": [
{"mark": {"type": "point", "shape": "circle", "filled": false, "size": 210, "stroke": "#f0606a", "strokeWidth": 1},
 "encoding": {"x": {"field": "x", "type": "quantitative"}, "y": {"field": "p", "type": "quantitative"}}},
{"mark": {"type": "text", "fontSize": 8, "color": "#f0606a", "baseline": "middle", "align": "center"},
 "encoding": {"x": {"field": "x", "type": "quantitative"}, "y": {"field": "p", "type": "quantitative"}, "text": {"field": "t"}}}
]
},
{
"data": {"values": [{"x1": 262.2, "x2": 271.6, "p1": 16.09, "p2": 16.33}]},
"mark": {"type": "rect", "fill": "#2e46ee"},
"encoding": {"x": {"field": "x1", "type": "quantitative"}, "x2": {"field": "x2"}, "y": {"field": "p1", "type": "quantitative"}, "y2": {"field": "p2"}}
},
{
"data": {"values": [{"x": 266.9, "p": 16.26, "t": "16.26", "c": "#ffffff"}, {"x": 266.9, "p": 16.16, "t": "03:16", "c": "#ffffff"}, {"x": 266.9, "p": 18.80, "t": "USD", "c": "#131722"}]},
"mark": {"type": "text", "fontSize": 8.5, "baseline": "middle", "align": "center"},
"encoding": {"x": {"field": "x", "type": "quantitative"}, "y": {"field": "p", "type": "quantitative"}, "text": {"field": "t"}, "color": {"field": "c", "type": "nominal", "scale": null}}
}
]
}
],
"resolve": {"scale": {"x": "independent", "y": "independent", "color": "independent", "opacity": "independent"}}
},
{
"width": 900, "height": 40,
"layer": [
{
"data": {"values": [{}]},
"mark": {"type": "rect", "color": "#c9bff0"},
"encoding": {
"y": {"datum": 20, "type": "quantitative", "scale": {"domain": [16.5, 87.1], "nice": false, "zero": false}, "axis": {"title": null, "orient": "right", "values": [80, 40], "format": ".2f", "tickSize": 3, "labelPadding": 2, "domainColor": "#6f7482", "tickColor": "#6f7482"}},
"y2": {"datum": 80}
}
},
{
"data": {"name": "rsi"},
"mark": {"type": "line", "color": "#7e3fb8", "strokeWidth": 1},
"encoding": {
"x": {"field": "i", "type": "quantitative", "scale": {"domain": [-0.4375, 262.06], "nice": false, "zero": false, "padding": 0}, "axis": {"title": null, "labels": false, "ticks": false, "domain": true, "domainColor": "#9aa0b0", "orient": "bottom"}},
"y": {"field": "r", "type": "quantitative"}
}
}
]
},
{
"width": 900, "height": 35,
"data": {"name": "candles"},
"transform": [
{"window": [{"op": "lag", "field": "m", "as": "pm"}], "sort": [{"field": "i"}]},
{"calculate": "datum.m >= 0 ? (datum.pm == null || datum.m >= datum.pm ? 'ur' : 'uf') : (datum.pm == null || datum.m <= datum.pm ? 'df' : 'dr')", "as": "state"}
],
"mark": {"type": "bar", "orient": "vertical", "size": 1.6},
"encoding": {
"x": {"field": "i", "type": "quantitative", "scale": {"domain": [-0.4375, 262.06], "nice": false, "zero": false, "padding": 0},
 "axis": {"title": null, "ticks": false, "domain": true, "domainColor": "#9aa0b0", "labelPadding": 7, "labelFontSize": 9.5,
 "values": [13.27, 27.56, 49.15, 62.56, 82.98, 96.69, 110.69, 124.69, 138.1, 152.4, 173.69, 187.11, 200.81, 214.81, 237.27, 250.98],
 "labelExpr": "['7','9','14','16','21','23','28','30','2021','6','11','13','15','20','25','27'][indexof([13.27, 27.56, 49.15, 62.56, 82.98, 96.69, 110.69, 124.69, 138.1, 152.4, 173.69, 187.11, 200.81, 214.81, 237.27, 250.98], datum.value)]"}},
"y": {"field": "m", "type": "quantitative", "scale": {"domain": [-0.33, 0.72], "nice": false, "zero": false, "padding": 0}, "axis": {"title": null, "orient": "right", "values": [0.5, 0], "format": ".2f", "tickSize": 3, "labelPadding": 2, "domainColor": "#6f7482", "tickColor": "#6f7482"}},
"y2": {"datum": 0},
"color": {"field": "state", "type": "nominal", "scale": {"domain": ["ur", "uf", "df", "dr"], "range": ["#55ea5a", "#2f5c37", "#ff4a4a", "#7d1c24"]}, "legend": null}
}
}
],
"spacing": 0,
"bounds": "flush",
"resolve": {"scale": {"x": "independent", "y": "independent", "color": "independent"}}
}
